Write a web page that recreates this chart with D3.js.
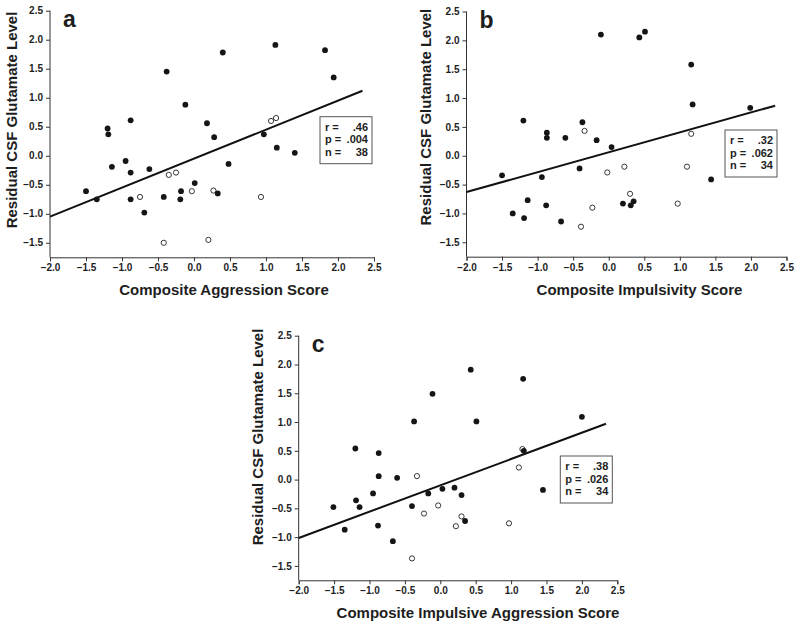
<!DOCTYPE html>
<html>
<head>
<meta charset="utf-8">
<script src="https://cdn.jsdelivr.net/npm/d3@7"></script>
<style>
  body { margin: 0; background: #fff; }
  text { font-family: "Liberation Sans", Arial, sans-serif; fill: #1e1e1e; }
</style>
</head>
<body>
<svg id="chart" width="800" height="627"></svg>
<script>
// ---- data ----
const xTicks = [-2.0, -1.5, -1.0, -0.5, 0.0, 0.5, 1.0, 1.5, 2.0, 2.5];
const yTicks = [-1.5, -1.0, -0.5, 0.0, 0.5, 1.0, 1.5, 2.0, 2.5];

// panel a: aggression
const aFilled = [[-1.50,-0.61],[-1.35,-0.75],[-1.20,0.47],[-1.19,0.37],[-1.14,-0.19],[-0.88,0.61],
  [-0.95,-0.09],[-0.88,-0.29],[-0.88,-0.75],[-0.62,-0.23],[-0.69,-0.98],[-0.38,1.45],[-0.42,-0.71],
  [-0.12,0.88],[-0.18,-0.61],[-0.19,-0.75],[0.01,-0.47],[0.40,1.78],[1.13,1.91],[1.82,1.82],
  [1.94,1.35],[0.18,0.56],[0.28,0.32],[0.97,0.37],[1.15,0.14],[1.40,0.05],[0.48,-0.14],[0.33,-0.65]];
const aOpen = [[1.07,0.60],[1.14,0.65],[-0.03,-0.61],[0.27,-0.60],[0.93,-0.71],[0.20,-1.45],
  [-0.75,-0.71],[-0.35,-0.33],[-0.25,-0.29],[-0.42,-1.50]];
const aFit = [0.50, -0.05];          // slope, intercept
const aStats = [".46", ".004", "38"];

// panel b: impulsivity
const bFilled = [[-1.50,-0.34],[-1.35,-1.00],[-1.20,0.61],[-1.19,-1.08],[-1.14,-0.77],[-0.87,0.40],
  [-0.87,0.31],[-0.94,-0.37],[-0.88,-0.86],[-0.61,0.31],[-0.67,-1.14],[-0.37,0.58],[-0.41,-0.22],
  [-0.17,0.27],[-0.11,2.10],[0.04,0.15],[0.43,2.05],[0.51,2.15],[1.16,1.58],[1.18,0.89],[1.99,0.83],
  [1.44,-0.41],[0.20,-0.83],[0.31,-0.86],[0.35,-0.79]];
const bOpen = [[-0.34,0.43],[-0.23,-0.90],[-0.39,-1.23],[-0.02,-0.29],[0.22,-0.19],[0.30,-0.66],
  [1.10,-0.19],[1.16,0.38],[0.97,-0.83]];
const bFit = [0.345, 0.06];
const bStats = [".32", ".062", "34"];

// panel c: impulsive aggression
const cFilled = [[-1.51,-0.48],[-1.35,-0.87],[-1.20,0.54],[-1.19,-0.36],[-1.14,-0.48],[-0.87,0.46],
  [-0.87,0.06],[-0.95,-0.24],[-0.88,-0.80],[-0.61,0.03],[-0.67,-1.07],[-0.37,1.01],[-0.40,-0.46],
  [-0.11,1.49],[-0.17,-0.24],[0.43,1.91],[1.17,1.75],[0.51,1.01],[2.00,1.09],[1.18,0.50],
  [1.45,-0.18],[0.03,-0.16],[0.20,-0.14],[0.30,-0.27],[0.35,-0.72]];
const cOpen = [[-0.33,0.06],[-0.23,-0.59],[-0.40,-1.37],[-0.03,-0.45],[1.11,0.21],[0.30,-0.64],
  [0.22,-0.81],[0.97,-0.76],[1.16,0.53]];
const cFit = [0.457, -0.10];
const cStats = [".38", ".026", "34"];

const fitRange = [-2.0, 2.34];

const svg = d3.select("#chart");

function drawPanel(p) {
  const g = svg.append("g").attr("transform", `translate(${p.left},${p.top})`);
  const x = d3.scaleLinear().domain([-2.0, 2.5]).range([0, p.w]);
  const y = d3.scaleLinear().domain([-1.75, 2.5]).range([p.h, 0]);

  const xAxis = g.append("g").attr("transform", `translate(0,${p.h})`)
    .call(d3.axisBottom(x).tickValues(xTicks).tickFormat(d3.format(".1f")).tickSizeOuter(0).tickSize(4).tickPadding(3));
  const yAxis = g.append("g")
    .call(d3.axisLeft(y).tickValues(yTicks).tickFormat(d3.format(".1f")).tickSizeOuter(0).tickSize(4).tickPadding(3));
  yAxis.select(".domain").attr("d", `M0,${y(2.5)}V${p.h}`);
  [xAxis, yAxis].forEach(a => {
    a.selectAll("path,line").attr("stroke", "#333").attr("stroke-width", 1);
    a.selectAll("text").attr("font-family", "Liberation Sans, Arial, sans-serif")
      .attr("font-size", 10).attr("font-weight", "bold").attr("fill", "#222");
  });

  // regression line
  g.append("line")
    .attr("x1", x(fitRange[0])).attr("y1", y(p.fit[0] * fitRange[0] + p.fit[1]))
    .attr("x2", x(fitRange[1])).attr("y2", y(p.fit[0] * fitRange[1] + p.fit[1]))
    .attr("stroke", "#111").attr("stroke-width", 2);

  g.selectAll("circle.open").data(p.open).enter().append("circle")
    .attr("class", "open")
    .attr("cx", d => x(d[0])).attr("cy", d => y(d[1])).attr("r", 2.6)
    .attr("fill", "#fff").attr("stroke", "#222").attr("stroke-width", 0.9);
  g.selectAll("circle.filled").data(p.filled).enter().append("circle")
    .attr("class", "filled")
    .attr("cx", d => x(d[0])).attr("cy", d => y(d[1])).attr("r", 2.9)
    .attr("fill", "#151515");

  // panel letter
  g.append("text").attr("x", 13).attr("y", 16.5)
    .attr("font-size", 23).attr("font-weight", "bold").attr("fill", "#151515")
    .text(p.letter);

  // axis titles
  g.append("text")
    .attr("x", p.w / 2 + p.xtOff).attr("y", p.h + 38)
    .attr("text-anchor", "middle").attr("font-size", 15).attr("font-weight", "bold")
    .text(p.xTitle);
  g.append("text")
    .attr("transform", `translate(${p.ytX},${p.h / 2 + p.ytOff}) rotate(-90)`)
    .attr("text-anchor", "middle").attr("font-size", 15).attr("font-weight", "bold")
    .text("Residual CSF Glutamate Level");

  // stats box
  const bx = g.append("g").attr("transform", `translate(${p.box[0]},${p.box[1]})`);
  bx.append("rect").attr("width", 52).attr("height", 47)
    .attr("fill", "#fff").attr("stroke", "#555").attr("stroke-width", 1);
  const labels = ["r =", "p =", "n ="];
  labels.forEach((l, i) => {
    bx.append("text").attr("x", 5).attr("y", 14 + i * 12.6)
      .attr("font-size", 11).attr("font-weight", "bold").attr("fill", "#222").text(l);
    bx.append("text").attr("x", 48).attr("y", 14 + i * 12.6).attr("text-anchor", "end")
      .attr("font-size", 11).attr("font-weight", "bold").attr("fill", "#222").text(p.stats[i]);
  });
}

drawPanel({ letter: "a", left: 50, top: 10.7, w: 324, h: 246.6, filled: aFilled, open: aOpen,
  fit: aFit, stats: aStats, xTitle: "Composite Aggression Score", xtOff: 12, ytX: -33, ytOff: -14,
  box: [270, 106] });
drawPanel({ letter: "b", left: 466.5, top: 11.5, w: 320, h: 245.2, filled: bFilled, open: bOpen,
  fit: bFit, stats: bStats, xTitle: "Composite Impulsivity Score", xtOff: 13, ytX: -36, ytOff: -17,
  box: [258.5, 118.5] });
drawPanel({ letter: "c", left: 298.7, top: 335.7, w: 318.6, h: 244.6, filled: cFilled, open: cOpen,
  fit: cFit, stats: cStats, xTitle: "Composite Impulsive Aggression Score", xtOff: 20, ytX: -36, ytOff: -21,
  box: [261.6, 120.3] });
</script>
</body>
</html>
